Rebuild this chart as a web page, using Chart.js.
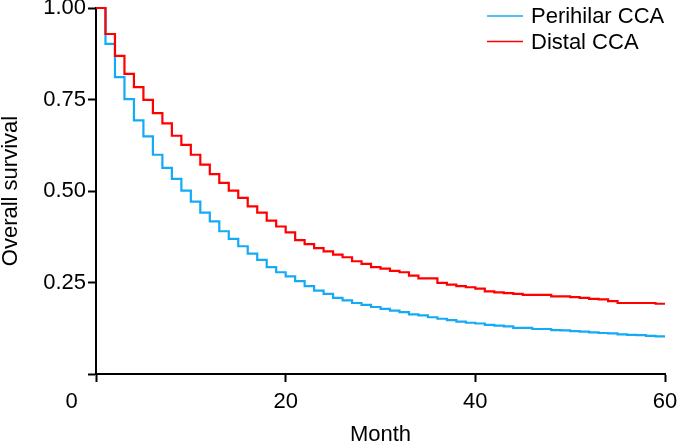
<!DOCTYPE html>
<html>
<head>
<meta charset="utf-8">
<script src="https://cdn.jsdelivr.net/npm/chart.js@4"></script>
<style>
  html, body { margin: 0; padding: 0; background: #fff; }
  #wrap { width: 677px; height: 442px; }
</style>
</head>
<body>
<div id="wrap"><canvas id="survChart" width="677" height="442"></canvas></div>
<script>
// months at which the curves are read (step changes)
const months = [0, 1, 2, 3, 4, 5, 6, 7, 8, 9, 10, 11, 12, 13, 14, 15, 16, 17, 18, 19, 20,
    21, 22, 23, 24, 25, 26, 27, 28, 29, 30, 31, 32, 33, 34, 35, 36, 37, 38, 39, 40,
    41, 42, 43, 44, 45, 46, 47, 48, 49, 50, 51, 52, 53, 54, 55, 56, 57, 58, 59, 60];

const perihilar = [1.000, 0.902, 0.811, 0.751, 0.693, 0.649, 0.599, 0.563, 0.533, 0.501, 0.471,
    0.441, 0.417, 0.390, 0.369, 0.349, 0.329, 0.312, 0.292, 0.278, 0.267,
    0.254, 0.240, 0.228, 0.219, 0.208, 0.201, 0.194, 0.189, 0.183, 0.178,
    0.173, 0.169, 0.163, 0.160, 0.155, 0.151, 0.147, 0.143, 0.140, 0.138,
    0.134, 0.132, 0.130, 0.126, 0.126, 0.123, 0.123, 0.120, 0.119, 0.117,
    0.116, 0.114, 0.112, 0.111, 0.108, 0.107, 0.106, 0.104, 0.103, 0.103];

const distal = [1.000, 0.929, 0.869, 0.820, 0.784, 0.749, 0.713, 0.685, 0.651, 0.626, 0.599,
    0.572, 0.546, 0.522, 0.501, 0.481, 0.458, 0.441, 0.419, 0.403, 0.387,
    0.366, 0.355, 0.344, 0.335, 0.326, 0.319, 0.308, 0.301, 0.292, 0.288,
    0.282, 0.278, 0.269, 0.261, 0.261, 0.249, 0.244, 0.240, 0.237, 0.233,
    0.226, 0.223, 0.221, 0.219, 0.216, 0.216, 0.216, 0.212, 0.212, 0.210,
    0.208, 0.205, 0.204, 0.199, 0.194, 0.194, 0.194, 0.194, 0.192, 0.192];

const xTicks = [0, 20, 40, 60];
const yTicks = [0, 0.25, 0.5, 0.75, 1];

const seriesNames = ['Perihilar CCA', 'Distal CCA'];
const seriesColors = ['rgb(20, 170, 245)', 'rgb(255, 0, 0)'];

const FAMILY = "'Liberation Sans', Arial, Helvetica, sans-serif";
const TICK_FONT = { family: FAMILY, size: 22 };
const TITLE_FONT = { family: FAMILY, size: 22, lineHeight: 1 };

function toPoints(values) {
    return months.map((m, i) => ({ x: m, y: values[i] }));
}

// legend drawn by hand: two rows, left aligned, in top right of plot
const stackLegend = {
    id: 'stackLegend',
    afterDraw(chart) {
        const ctx = chart.ctx;
        const area = chart.chartArea;
        ctx.save();
        ctx.font = '22px ' + FAMILY;
        ctx.textBaseline = 'middle';
        ctx.textAlign = 'left';
        seriesNames.forEach((name, i) => {
            const y = area.top + 8 + i * 25.5;
            const x0 = area.right - 178;
            ctx.strokeStyle = seriesColors[i];
            ctx.lineWidth = 1.5;
            ctx.beginPath();
            ctx.moveTo(x0, y);
            ctx.lineTo(x0 + 36, y);
            ctx.stroke();
            ctx.fillStyle = '#000';
            ctx.fillText(name, x0 + 44, y + 1);
        });
        ctx.restore();
    }
};

const ctx = document.getElementById('survChart').getContext('2d');

// distal first so it paints on top of perihilar
let survChart = new Chart(ctx, {
    type: 'line',
    data: {
        datasets: [{
            label: seriesNames[1],
            data: toPoints(distal),
            borderColor: seriesColors[1],
            borderWidth: 2.2,
            pointRadius: 0,
            stepped: 'before',
            fill: false,
            clip: 4
        }, {
            label: seriesNames[0],
            data: toPoints(perihilar),
            borderColor: seriesColors[0],
            borderWidth: 2.2,
            pointRadius: 0,
            stepped: 'before',
            fill: false,
            clip: 4
        }]
    },
    options: {
        responsive: false,
        animation: false,
        layout: { padding: { left: 0, right: 12, top: 8, bottom: 0 } },
        plugins: {
            legend: { display: false },
            tooltip: { enabled: false }
        },
        scales: {
            x: {
                type: 'linear',
                min: 0,
                max: 60,
                afterBuildTicks: (s) => { s.ticks = xTicks.map(v => ({ value: v })); },
                afterFit: (s) => { s.height = 68; s.paddingLeft = 0; s.paddingRight = 0; },
                ticks: {
                    color: '#000',
                    font: TICK_FONT,
                    padding: 7,
                    maxRotation: 0,
                    // the 0 label sits left of the axis in the original
                    callback: (v) => v === 0 ? '0        ' : String(v)
                },
                grid: { drawOnChartArea: false, drawTicks: true, tickLength: 8, tickWidth: 2, color: '#000' },
                border: { display: true, color: '#000', width: 2 },
                title: { display: true, text: 'Month', color: '#000', font: TITLE_FONT, padding: { top: 0, bottom: -4 } }
            },
            y: {
                min: 0,
                max: 1,
                afterBuildTicks: (s) => { s.ticks = yTicks.map(v => ({ value: v })); },
                afterFit: (s) => { s.width = 96; s.paddingTop = 0; s.paddingBottom = 0; },
                ticks: {
                    color: '#000',
                    font: TICK_FONT,
                    padding: 2,
                    callback: (v) => v === 0 ? '' : v.toFixed(2)
                },
                grid: { drawOnChartArea: false, drawTicks: true, tickLength: 8, tickWidth: 2, color: '#000' },
                border: { display: true, color: '#000', width: 2 },
                title: { display: true, text: 'Overall survival', color: '#000', font: TITLE_FONT, padding: { top: 0, bottom: 0 } }
            }
        }
    },
    plugins: [stackLegend]
});
</script>
</body>
</html>
